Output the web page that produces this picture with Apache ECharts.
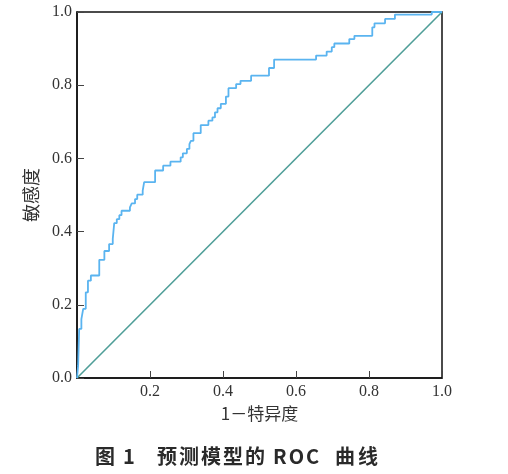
<!DOCTYPE html>
<html>
<head>
<meta charset="utf-8">
<script src="https://cdn.jsdelivr.net/npm/echarts@6/dist/echarts.min.js"></script>
<style>
html, body { margin: 0; padding: 0; background: #fff; }
#main { width: 508px; height: 474px; }
</style>
</head>
<body>
<div id="main"></div>
<script>
// ROC 曲线的阶梯拐点 (1-特异度, 敏感度)
var fprData = [0, 0.003, 0.006, 0.012, 0.017, 0.024, 0.030, 0.038, 0.061, 0.075,
	0.088, 0.098, 0.102, 0.109, 0.116, 0.122, 0.145, 0.150, 0.159, 0.165,
	0.180, 0.184, 0.214, 0.236, 0.256, 0.284, 0.290, 0.301, 0.308, 0.312,
	0.319, 0.339, 0.360, 0.371, 0.378, 0.385, 0.394, 0.408, 0.415, 0.436,
	0.448, 0.477, 0.526, 0.540, 0.655, 0.684, 0.698, 0.705, 0.746, 0.760,
	0.809, 0.815, 0.844, 0.871, 0.972, 1.0];
var tprData = [0, 0.033, 0.134, 0.161, 0.189, 0.234, 0.266, 0.280, 0.323, 0.347,
	0.366, 0.380, 0.423, 0.434, 0.445, 0.457, 0.466, 0.477, 0.489, 0.501,
	0.512, 0.535, 0.567, 0.580, 0.591, 0.603, 0.614, 0.626, 0.639, 0.648,
	0.669, 0.691, 0.703, 0.712, 0.726, 0.737, 0.749, 0.769, 0.792, 0.803,
	0.812, 0.826, 0.847, 0.870, 0.881, 0.892, 0.904, 0.914, 0.926, 0.935,
	0.958, 0.969, 0.981, 0.993, 1.0, 1.0];
var refX = [0, 1];
var refY = [0, 1];
var xName = '1－特异度';
var yName = '敏感度';
// 图题分段 (图号 / 标题各部分)
var captionParts = ['图', '1', '预测模型的', 'ROC', '曲线'];

var rocPoints = [];
for (var i = 0; i < fprData.length; i++) {
	rocPoints.push([fprData[i], tprData[i]]);
}
var refPoints = [];
for (var j = 0; j < refX.length; j++) {
	refPoints.push([refX[j], refY[j]]);
}

// 图题各段的起始位置和字距
var captionLeft = [95, 123, 157, 273, 335];
var captionSpacing = [0, 0, 2, 2, 3];
var captionFont = 'bold 20px "Noto Sans CJK SC"';
var captionItems = [];
for (var k = 0; k < captionParts.length; k++) {
	var chars = captionParts[k].split('');
	var x = captionLeft[k];
	for (var m = 0; m < chars.length; m++) {
		captionItems.push({
			type : 'text',
			left : x,
			top : 446,
			style : {
				text : chars[m],
				font : captionFont,
				fill : '#2a2a2a'
			}
		});
		x += echarts.format.getTextRect
			? echarts.format.getTextRect(chars[m], captionFont).width + captionSpacing[k]
			: 20 + captionSpacing[k];
	}
}

var labelStyle = {
	fontFamily : 'Liberation Serif',
	fontSize : 16,
	color : '#333'
};

var option = {
	animation : false,
	graphic : captionItems,
	grid : {
		left : 77,
		right : 66,
		top : 12,
		bottom : 96,
		show : true,
		borderColor : '#111',
		borderWidth : 1.5
	},
	xAxis : {
		type : 'value',
		min : 0,
		max : 1,
		interval : 0.2,
		name : xName,
		nameLocation : 'middle',
		nameGap : 24,
		nameTextStyle : {
			fontFamily : 'Noto Sans CJK SC',
			fontSize : 17,
			color : '#333'
		},
		axisLine : { lineStyle : { color : '#111', width : 1.5 } },
		axisTick : { inside : true, length : 7, lineStyle : { color : '#444' } },
		splitLine : { show : false },
		axisLabel : {
			fontFamily : labelStyle.fontFamily,
			fontSize : labelStyle.fontSize,
			color : labelStyle.color,
			margin : 6,
			formatter : function(v) {
				return v === 0 ? '' : v.toFixed(1);
			}
		}
	},
	yAxis : {
		type : 'value',
		min : 0,
		max : 1,
		interval : 0.2,
		name : yName,
		nameLocation : 'middle',
		nameGap : 37,
		nameTextStyle : {
			fontFamily : 'Noto Sans CJK SC',
			fontSize : 18,
			color : '#333'
		},
		axisLine : { lineStyle : { color : '#111', width : 1.5 } },
		axisTick : { inside : true, length : 7, lineStyle : { color : '#444' } },
		splitLine : { show : false },
		axisLabel : {
			fontFamily : labelStyle.fontFamily,
			fontSize : labelStyle.fontSize,
			color : labelStyle.color,
			margin : 5,
			formatter : function(v) {
				return v.toFixed(1);
			}
		}
	},
	series : [ {
		name : 'ref',
		type : 'line',
		data : refPoints,
		symbol : 'none',
		lineStyle : { color : '#4f9e98', width : 1.6 }
	}, {
		name : 'roc',
		type : 'line',
		step : 'end',
		data : rocPoints,
		symbol : 'none',
		lineStyle : { color : '#5ab4f0', width : 1.8 }
	} ]
};

var myChart = echarts.init(document.getElementById('main'));
myChart.setOption(option, true);
</script>
</body>
</html>
